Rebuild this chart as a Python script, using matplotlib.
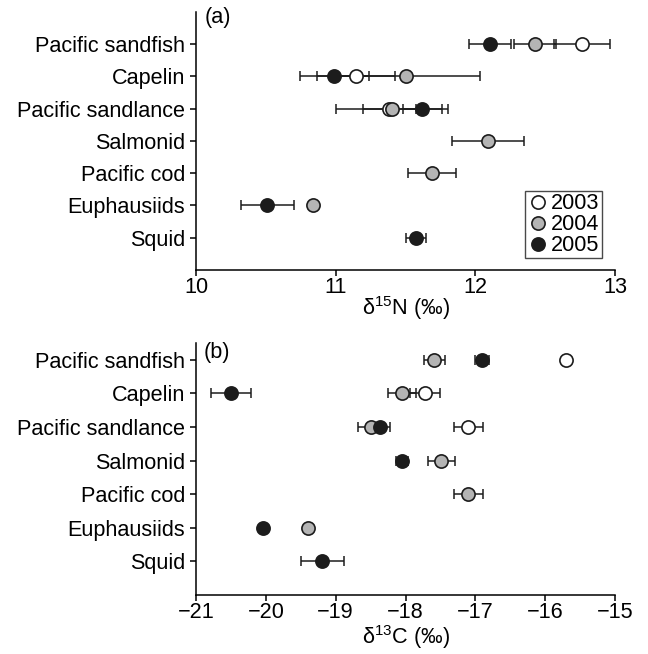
import numpy as np
import matplotlib
matplotlib.use('Agg')
import matplotlib.pyplot as plt
from matplotlib.lines import Line2D

plt.rcParams['font.family'] = ['Liberation Sans', 'DejaVu Sans']
plt.rcParams['mathtext.fontset'] = 'custom'
plt.rcParams['mathtext.rm'] = 'Liberation Sans'

nan = np.nan

# --- data ---
species = ['Pacific sandfish', 'Capelin', 'Pacific sandlance', 'Salmonid',
           'Pacific cod', 'Euphausiids', 'Squid']
years = ['2003', '2004', '2005']

d15n_2003 = [12.765, 11.145, 11.385, nan, nan, nan, nan]
d15n_2003_se = [0.20, 0.28, 0.19, nan, nan, nan, nan]
d15n_2004 = [12.43, 11.50, 11.405, 12.09, 11.69, 10.835, nan]
d15n_2004_se = [0.15, 0.53, 0.40, 0.26, 0.17, 0.0, nan]
d15n_2005 = [12.105, 10.99, 11.62, nan, nan, 10.51, 11.575]
d15n_2005_se = [0.15, 0.245, 0.14, nan, nan, 0.19, 0.07]

d13c_2003 = [-15.70, -17.72, -17.10, nan, nan, nan, nan]
d13c_2003_se = [0.0, 0.21, 0.21, nan, nan, nan, nan]
d13c_2004 = [-17.59, -18.05, -18.50, -17.485, -17.10, -19.39, nan]
d13c_2004_se = [0.15, 0.20, 0.18, 0.20, 0.21, 0.0, nan]
d13c_2005 = [-16.90, -20.50, -18.36, -18.05, nan, -20.04, -19.19]
d13c_2005_se = [0.10, 0.29, 0.14, 0.09, nan, 0.0, 0.31]

face = ['white', '#b4b4b4', '#1c1c1c']
ypos = np.arange(1, len(species) + 1)
fs = 15.6

fig = plt.figure(figsize=(6.48, 6.54), dpi=100)
ax_a = fig.add_axes([0.3025, 0.5872, 0.6466, 0.3945])
ax_b = fig.add_axes([0.3025, 0.0900, 0.6466, 0.3860])


def draw(ax, vals, errs):
    # error bars below all markers
    for v, e in zip(vals, errs):
        ax.errorbar(v, ypos, xerr=e, fmt='none', ecolor='#1c1c1c',
                    elinewidth=1.1, capsize=3.5, capthick=1.1, zorder=2)
    for i, v in enumerate(vals):
        ax.plot(v, ypos, 'o', ms=9.5, mfc=face[i], mec='#1c1c1c',
                mew=1.2, ls='none', zorder=3 + i)
    ax.set_yticks(ypos)
    ax.set_yticklabels(species)
    for s in ['top', 'right']:
        ax.spines[s].set_visible(False)
    for s in ['left', 'bottom']:
        ax.spines[s].set_linewidth(1.1)
    ax.tick_params(direction='out', length=4, width=1.1, labelsize=fs)
    ax.tick_params(axis='y', pad=4)
    ax.tick_params(axis='x', pad=1)


draw(ax_a, [d15n_2003, d15n_2004, d15n_2005],
     [d15n_2003_se, d15n_2004_se, d15n_2005_se])
ax_a.set_xlim(10, 13)
ax_a.set_xticks([10, 11, 12, 13])
ax_a.set_ylim(8, 0)
ax_a.set_xlabel('\u03b4$^{\\mathregular{15}}$N (\u2030)', fontsize=fs)
ax_a.xaxis.set_label_coords(0.5, -0.095)
ax_a.text(0.021, 0.98, '(a)', transform=ax_a.transAxes, fontsize=fs,
          va='center', ha='left')

handles = [Line2D([], [], marker='o', ls='none', ms=9.5, mfc=face[i],
                  mec='#1c1c1c', mew=1.2) for i in range(3)]
leg = ax_a.legend(handles, years, loc='lower right',
                  bbox_to_anchor=(0.968, 0.045), fontsize=fs,
                  frameon=True, fancybox=False, borderpad=0.1,
                  handletextpad=0.1, labelspacing=0.0, handlelength=1.0,
                  borderaxespad=0)
leg.get_frame().set_edgecolor('#1c1c1c')
leg.get_frame().set_linewidth(1.0)

draw(ax_b, [d13c_2003, d13c_2004, d13c_2005],
     [d13c_2003_se, d13c_2004_se, d13c_2005_se])
ax_b.set_xlim(-21, -15)
ax_b.set_xticks([-21, -20, -19, -18, -17, -16, -15])
ax_b.set_xticklabels(['\u221221', '\u221220', '\u221219', '\u221218',
                      '\u221217', '\u221216', '\u221215'])
ax_b.set_ylim(8, 0.5)
ax_b.set_xlabel('\u03b4$^{\\mathregular{13}}$C (\u2030)', fontsize=fs)
ax_b.xaxis.set_label_coords(0.5, -0.112)
ax_b.text(0.017, 0.962, '(b)', transform=ax_b.transAxes, fontsize=fs,
          va='center', ha='left')

fig.savefig('out.png', dpi=100)
